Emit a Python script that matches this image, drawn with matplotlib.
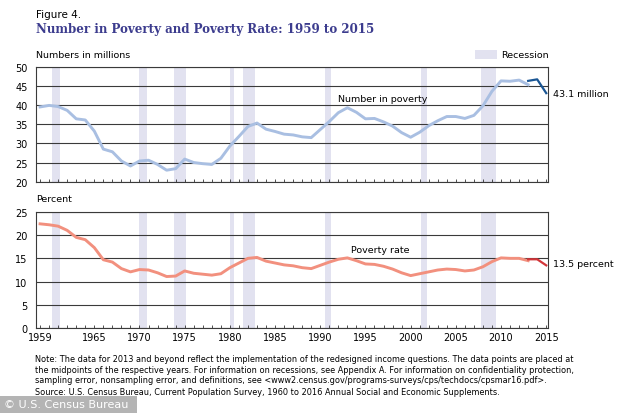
import matplotlib.pyplot as plt
from matplotlib.patches import Rectangle

# Poverty data, 1959-2015 (numbers in millions, rate in percent)
years = list(range(1959, 2014))
number = [39.5, 39.9, 39.6, 38.6, 36.4, 36.1, 33.2, 28.5, 27.8, 25.4,
          24.1, 25.4, 25.6, 24.5, 23.0, 23.4, 25.9, 25.0, 24.7, 24.5,
          26.1, 29.3, 31.8, 34.4, 35.3, 33.7, 33.1, 32.4, 32.2, 31.7,
          31.5, 33.6, 35.7, 38.0, 39.3, 38.1, 36.4, 36.5, 35.6, 34.5,
          32.8, 31.6, 32.9, 34.6, 35.9, 37.0, 37.0, 36.5, 37.3, 39.8,
          43.6, 46.3, 46.2, 46.5, 45.3]
rate = [22.4, 22.2, 21.9, 21.0, 19.5, 19.0, 17.3, 14.7, 14.2, 12.8,
        12.1, 12.6, 12.5, 11.9, 11.1, 11.2, 12.3, 11.8, 11.6, 11.4,
        11.7, 13.0, 14.0, 15.0, 15.2, 14.4, 14.0, 13.6, 13.4, 13.0,
        12.8, 13.5, 14.2, 14.8, 15.1, 14.5, 13.8, 13.7, 13.3, 12.7,
        11.9, 11.3, 11.7, 12.1, 12.5, 12.7, 12.6, 12.3, 12.5, 13.2,
        14.3, 15.1, 15.0, 15.0, 14.5]

# redesigned income questions, 2013 onward
new_years = [2013, 2014, 2015]
new_number = [46.3, 46.7, 43.1]
new_rate = [14.8, 14.8, 13.5]

recessions = [(1960.3, 1961.2), (1969.9, 1970.8), (1973.8, 1975.2),
              (1980.0, 1980.5), (1981.5, 1982.8), (1990.5, 1991.2),
              (2001.1, 2001.8), (2007.8, 2009.4)]

xticks = [1959, 1965, 1970, 1975, 1980, 1985, 1990, 1995, 2000, 2005, 2010, 2015]

band_col = "#e2e2f0"
grid_col = "#3a3a3a"

fig = plt.figure(figsize=(6.34, 4.14), dpi=100)
ax1 = fig.add_axes([0.0568, 0.5587, 0.8076, 0.2778])
ax2 = fig.add_axes([0.0568, 0.2046, 0.8076, 0.2816])


def style(ax, ylim, step):
    ax.set_xlim(1958.55, 2015.2)
    ax.set_ylim(*ylim)
    for a, b in recessions:
        ax.axvspan(a, b, color=band_col, lw=0, zorder=0)
    ax.set_yticks(range(ylim[0], ylim[1] + 1, step))
    for y in range(ylim[0], ylim[1] + 1, step):
        ax.axhline(y, color=grid_col, lw=0.8, zorder=1)
    ax.set_xticks(range(1959, 2016), minor=True)
    ax.set_xticks(xticks)
    ax.tick_params(axis="x", which="both", direction="in", length=2.5,
                   width=0.6, color="#333333", labelsize=7, pad=3)
    ax.tick_params(axis="y", length=0, labelsize=7, pad=6)
    for s in ax.spines.values():
        s.set_color(grid_col)
        s.set_linewidth(0.8)


style(ax1, (20, 50), 5)
ax1.tick_params(axis="x", labelbottom=False)
ax1.plot(years, number, color="#a9bfe2", lw=2.1, zorder=3)
ax1.plot(new_years, new_number, color="#1a5694", lw=1.6, zorder=4)
ax1.text(1996.9, 41.75, "Number in poverty", fontsize=6.8, va="center", ha="center")
ax1.text(2015.7, 43.1, "43.1 million", fontsize=6.8, va="center", ha="left",
         clip_on=False)

style(ax2, (0, 25), 5)
ax2.plot(years, rate, color="#f2907e", lw=2.1, zorder=3)
ax2.plot(new_years, new_rate, color="#d2363a", lw=1.6, zorder=4)
ax2.text(1996.6, 16.85, "Poverty rate", fontsize=6.8, va="center", ha="center")
ax2.text(2015.7, 13.8, "13.5 percent", fontsize=6.8, va="center", ha="left",
         clip_on=False)

# titles and labels
fig.text(36 / 634, 1 - 15 / 414, "Figure 4.", fontsize=7.5, va="center")
fig.text(36 / 634, 1 - 29 / 414, "Number in Poverty and Poverty Rate: 1959 to 2015",
         fontsize=8.6, fontweight="bold", family="DejaVu Serif", color="#3c3c8e",
         va="center")
fig.text(36 / 634, 1 - 56 / 414, "Numbers in millions", fontsize=6.8, va="center")
fig.text(36 / 634, 1 - 200 / 414, "Percent", fontsize=6.8, va="center")
fig.patches.append(Rectangle((475 / 634, 1 - 60 / 414), 22 / 634, 9.5 / 414,
                             transform=fig.transFigure, color=band_col, lw=0))
fig.text(501 / 634, 1 - 55.5 / 414, "Recession", fontsize=6.8, va="center")

note = ("Note: The data for 2013 and beyond reflect the implementation of the redesigned "
        "income questions. The data points are placed at\n"
        "the midpoints of the respective years. For information on recessions, see "
        "Appendix A. For information on confidentiality protection,\n"
        "sampling error, nonsampling error, and definitions, see "
        "<www2.census.gov/programs-surveys/cps/techdocs/cpsmar16.pdf>.")
fig.text(35 / 634, 1 - 355 / 414, note, fontsize=5.85, va="top", linespacing=1.25)
fig.text(35 / 634, 1 - 392.5 / 414,
         "Source: U.S. Census Bureau, Current Population Survey, 1960 to 2016 "
         "Annual Social and Economic Supplements.", fontsize=5.85, va="center")

fig.patches.append(Rectangle((0, 0), 137 / 634, 17 / 414, transform=fig.transFigure,
                             color="#b4b4b4", lw=0))
fig.text(4 / 634, 8.5 / 414, "\u00a9 U.S. Census Bureau", fontsize=8,
         color="white", va="center")

fig.savefig("out.png", dpi=100)
